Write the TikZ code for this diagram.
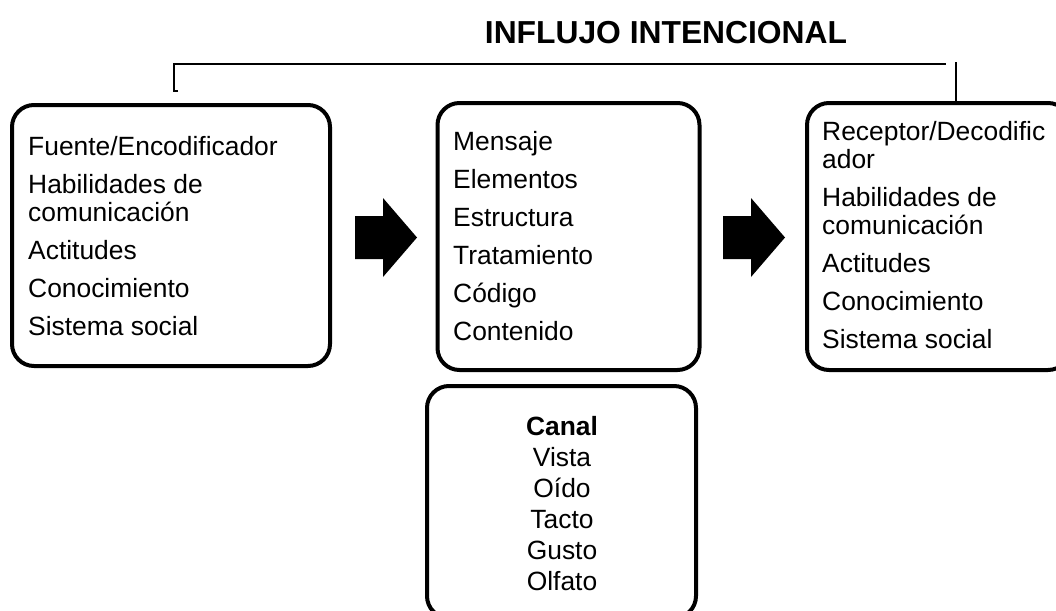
\documentclass[tikz,border=0pt]{standalone}
\usepackage{fontspec}
\setmainfont{Liberation Sans}
\begin{document}
\begin{tikzpicture}[x=1pt,y=-1pt,
  roundbox/.style={draw, line width=4pt, rounded corners=22pt, inner sep=0pt},
  bodytext/.style={inner sep=0pt, anchor=base west, font=\fontsize{26.4}{28}\selectfont},
  bracketline/.style={line width=1.5pt},
  blockarrow/.pic={\fill (0,-21.5) -- (28,-21.5) -- (28,-39.5) -- (62,0) -- (28,39.5) -- (28,21.5) -- (0,21.5) -- cycle;}
]
\useasboundingbox (0,0) rectangle (1056,610);

% title
\node[inner sep=0pt, anchor=base, font=\fontsize{31.8}{36}\selectfont\bfseries] (title) at (666,44) {INFLUJO INTENCIONAL};

% boxes
\node[roundbox, minimum width=318pt, minimum height=261pt] (src) at (171,235.5) {};
\node[roundbox, minimum width=262pt, minimum height=267pt] (msg) at (568.5,236.5) {};
\node[roundbox, minimum width=269pt, minimum height=232pt] (canal) at (561.5,502) {};
\node[roundbox, minimum width=263pt, minimum height=267pt] (rcv) at (938.5,236.5) {};

% texts
\node[bodytext] (srctext) at (28,155) {\begin{tabular}[t]{@{}l@{}}
Fuente/Encodificador\\[10pt]
Habilidades de\\
comunicación\\[10pt]
Actitudes\\[10pt]
Conocimiento\\[10pt]
Sistema social
\end{tabular}};

\node[bodytext] (msgtext) at (453,150) {\begin{tabular}[t]{@{}l@{}}
Mensaje\\[10pt]
Elementos\\[10pt]
Estructura\\[10pt]
Tratamiento\\[10pt]
Código\\[10pt]
Contenido
\end{tabular}};

\node[bodytext] (rcvtext) at (822,140) {\begin{tabular}[t]{@{}l@{}}
Receptor/Decodific\\
ador\\[10pt]
Habilidades de\\
comunicación\\[10pt]
Actitudes\\[10pt]
Conocimiento\\[10pt]
Sistema social
\end{tabular}};

\node[inner sep=0pt, anchor=base, font=\fontsize{26.4}{31}\selectfont] (canaltext) at (562,435) {\begin{tabular}[t]{@{}c@{}}
\textbf{Canal}\\
Vista\\
Oído\\
Tacto\\
Gusto\\
Olfato
\end{tabular}};

% block arrows
\pic at (355,237.5) {blockarrow};
\pic at (723,237.5) {blockarrow};

% bracket
\coordinate (bkL) at (178,91);
\coordinate (bkR) at (946,64);
\draw[bracketline] (bkL) -- (174,91) -- (174,64) -- (bkR);
\coordinate (rtop) at (956,62);
\draw[bracketline] (rtop) -- (rtop |- rcv.north);
\end{tikzpicture}
\end{document}
